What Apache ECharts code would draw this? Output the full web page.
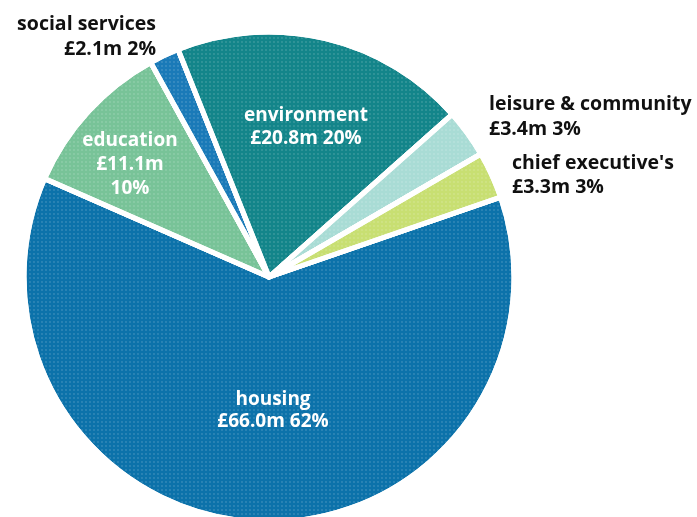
<!DOCTYPE html>
<html>
<head>
<meta charset="utf-8">
<script src="https://cdn.jsdelivr.net/npm/echarts@6/dist/echarts.min.js"></script>
<style>
  html, body { margin: 0; padding: 0; background: #ffffff; }
  #chart { width: 697px; height: 517px; }
</style>
</head>
<body>
<div id="chart"></div>
<script>
// Spending by department (£ million), listed clockwise from the right-hand edge of housing
const categories = ['housing', 'education', 'social services', 'environment', 'leisure & community', "chief executive's"];
const values = [66.0, 11.1, 2.1, 20.8, 3.4, 3.3];
// Published share of the total for each department (%)
const shares = [62, 10, 2, 20, 3, 3];
const sliceColors = ['#0c72aa', '#78c398', '#1a7ab8', '#13858a', '#a9dcd5', '#c8df72'];

// Label placement and styling for each slice (same order as categories)
const labelSpots = [
  { x: 273, y: 411, align: 'center', color: '#ffffff', lineHeight: 22, fontSize: 19 },
  { x: 130, y: 165, align: 'center', color: '#ffffff', lineHeight: 24, fontSize: 19 },
  { x: 156, y: 37, align: 'right', color: '#111111', lineHeight: 25, fontSize: 19.5 },
  { x: 306, y: 127, align: 'center', color: '#ffffff', lineHeight: 23, fontSize: 19 },
  { x: 489, y: 117, align: 'left', color: '#111111', lineHeight: 25, fontSize: 19.5 },
  { x: 512, y: 175, align: 'left', color: '#111111', lineHeight: 24, fontSize: 19.5 }
];

const chart = echarts.init(document.getElementById('chart'), null, { renderer: 'canvas' });

const seriesData = categories.map((name, i) => ({
  name: name,
  value: values[i],
  share: shares[i],
  itemStyle: { color: sliceColors[i] },
  label: {
    color: labelSpots[i].color,
    lineHeight: labelSpots[i].lineHeight,
    fontSize: labelSpots[i].fontSize
  }
}));

chart.setOption({
  animation: false,
  backgroundColor: '#ffffff',
  series: [{
    type: 'pie',
    center: [269, 277],
    radius: 245,
    startAngle: 19,
    clockwise: true,
    avoidLabelOverlap: false,
    data: seriesData,
    itemStyle: {
      borderColor: '#ffffff',
      borderWidth: 5,
      borderJoin: 'round',
      decal: {
        symbol: 'circle',
        symbolSize: 0.45,
        dashArrayX: [[4, 0]],
        dashArrayY: [4, 0],
        color: 'rgba(255,255,255,0.18)'
      }
    },
    label: {
      show: true,
      position: 'outside',
      fontFamily: 'Open Sans',
      fontWeight: 'bold',
      fontSize: 19,
      formatter: function (p) {
        const money = '£' + p.value.toFixed(1) + 'm';
        const pct = p.data.share + '%';
        if (p.name === 'education') {
          return p.name + '\n' + money + '\n' + pct;
        }
        return p.name + '\n' + money + ' ' + pct;
      }
    },
    labelLine: { show: false },
    labelLayout: function (params) {
      const s = labelSpots[params.dataIndex];
      return { x: s.x, y: s.y, align: s.align, verticalAlign: 'middle' };
    },
    emphasis: { disabled: true }
  }]
});
</script>
</body>
</html>
